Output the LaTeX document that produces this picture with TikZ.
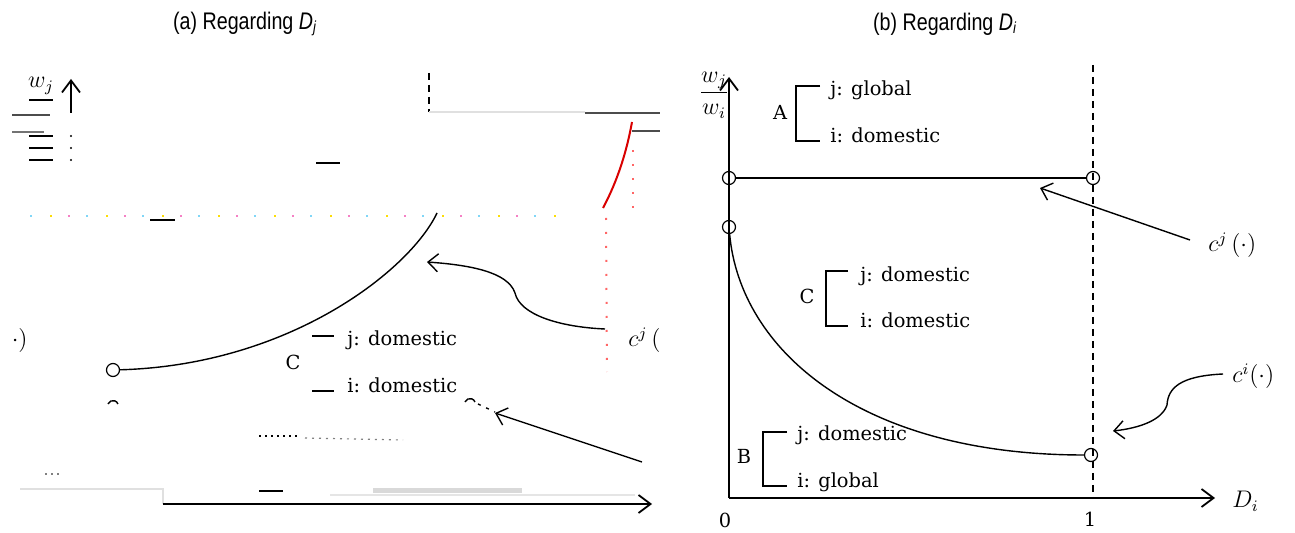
\documentclass[tikz,border=0pt]{standalone}
\usepackage[no-math]{fontspec}
\setmainfont{DejaVu Serif}
\newfontfamily\titlefont{Liberation Sans}
\usetikzlibrary{arrows.meta}
\begin{document}
\begin{tikzpicture}[x=0.5pt,y=-0.5pt,
  lbl/.style={font=\fontsize{9.7}{11}\selectfont, inner sep=0pt},
  mlbl/.style={font=\fontsize{12}{14}\selectfont, inner sep=0pt},
  ttl/.style={font=\titlefont\fontsize{12}{14}\selectfont, inner sep=0pt},
  axisarr/.style={line width=0.9pt, -{Straight Barb[length=6pt,width=9pt]}},
  crv/.style={line width=0.7pt},
  arr/.style={line width=0.7pt, -{Straight Barb[length=5pt,width=9pt]}},
  circ/.style={circle, draw, line width=0.6pt, inner sep=0pt, minimum size=6.5pt},
  brk/.style={line width=0.8pt},
  dashln/.style={line width=0.7pt, dash pattern=on 3.5pt off 2.5pt},
  glitchdark/.style={line width=1pt, black!70},
  glitchlight/.style={line width=1pt, black!12},
  shortbar/.style={line width=0.9pt, black},
  reddots/.style={line width=1pt, red!60, dash pattern=on 1pt off 6pt},
]
\useasboundingbox (0,0) rectangle (1295,533);

%% ---------------- titles ----------------
\node[ttl] (ta) at (245,24) {\scalebox{0.82}[1]{(a) Regarding {\itshape D}\textsubscript{\itshape j}}};
\node[ttl] (tb) at (945,24) {\scalebox{0.82}[1]{(b) Regarding {\itshape D}\textsubscript{\itshape i}}};

%% ---------------- panel (a): corrupted rendering ----------------
\coordinate (aYbot) at (71,113);
\coordinate (aYtop) at (71,79);
\draw[axisarr] (aYbot) -- (aYtop);
\node[mlbl] (awj) at (41,86) {$w_j$};
\draw[shortbar] (29,100) -- (53,100);
\draw[glitchdark] (12,115) -- (50,115);
\draw[line width=1pt, black!55] (12,132) -- (44,132);
\foreach \yy in {136,148,160}{
  \draw[shortbar] (29,\yy) -- (53,\yy);
  \fill (71,\yy) circle[radius=0.6pt];
}
\draw[shortbar] (316,163) -- (340,163);
\draw[shortbar] (150,220) -- (175,220);
% coloured speckles
\draw[cyan!50, line width=1pt, dash pattern=on 1pt off 27pt] (30,216) -- (565,216);
\draw[magenta!50, line width=1pt, dash pattern=on 1pt off 27pt, dash phase=9pt] (30,216) -- (565,216);
\draw[yellow!80!orange, line width=1pt, dash pattern=on 1pt off 27pt, dash phase=18pt] (30,216) -- (565,216);
% top fragments
\draw[dashln] (429,73) -- (429,112);
\draw[glitchlight] (429,112) -- (585,112);
\draw[glitchdark] (585,113) -- (660,113);
\draw[glitchdark] (632,131) -- (660,131);
\draw[line width=1pt, red!85!black] (603,208) .. controls (618,180) and (627,150) .. (632,122);
\draw[reddots] (633,150) -- (633,212);
\draw[reddots] (606,218) -- (607,372);
% main curve of panel (a)
\node[circ] (aC) at (113,370) {};
\coordinate (aCend) at (437,213);
\draw[crv] (aC) .. controls (290,365) and (410,270) .. (aCend);
% curved arrow to the curve
\coordinate (cjaS) at (605,329);
\coordinate (cjaT) at (427,262);
\draw[arr] (cjaS) .. controls (560,327) and (520,315) .. (515,293)
                  .. controls (508,272) and (470,265) .. (cjaT);
\node[mlbl, anchor=base west] (cja) at (628,347) {$c^j\,($};
\node[mlbl, anchor=base east] (cjb2) at (28,347) {$\cdot)$};
% C bracket fragment
\node[lbl, anchor=base] (Ca) at (293,370) {C};
\draw[brk] (312,336) -- (334,336);
\draw[brk] (312,391) -- (334,391);
\node[lbl, anchor=base west] (Caj) at (347,346) {j: domestic};
\node[lbl, anchor=base west] (Cai) at (347,393) {i: domestic};
% small arcs
\draw[crv] (108,404) arc[start angle=200, end angle=340, radius=5.3];
\draw[crv] (465,402) arc[start angle=200, end angle=340, radius=5.3];
\draw[line width=0.7pt, dash pattern=on 1.5pt off 3pt] (478,404) -- (495,412);
% straight arrow
\coordinate (ciaS) at (642,462);
\coordinate (ciaT) at (495,413);
\draw[arr] (ciaS) -- (ciaT);
% dotted fragments
\draw[line width=0.8pt, dash pattern=on 1pt off 2pt] (259,436) -- (298,436);
\draw[line width=0.6pt, black!50, dash pattern=on 1pt off 2.5pt] (305,438) -- (403,440);
\draw[line width=0.6pt, black!50, dash pattern=on 1pt off 2pt] (45,474) -- (62,474);
% bottom fragments
\draw[glitchlight] (20,489) -- (163,489) -- (163,504);
\draw[line width=1pt, black!10] (330,495) -- (635,495);
\fill[black!15] (373,488) rectangle (522,493);
\draw[shortbar] (259,491) -- (283,491);
\coordinate (aX0) at (163,504);
\coordinate (aXend) at (652,504);
\draw[axisarr] (aX0) -- (aXend);

%% ---------------- panel (b) ----------------
\coordinate (bO) at (729,498);
\coordinate (bYtop) at (729,77);
\coordinate (bXend) at (1215,498);
\draw[axisarr] (bO) -- (bYtop);
\draw[axisarr] (bO) -- (bXend);
\coordinate (dTop) at (1093,65);
\coordinate (dBot) at (1093,498);
\draw[dashln] (dTop) -- (dBot);

\node[mlbl] (wfrac) at (714,95) {$\displaystyle\frac{w_j}{w_i}$};
\node[mlbl, anchor=base west] (Dlab) at (1232,508) {$D_i$};
\node[lbl] (zero) at (725,520) {0};
\node[lbl] (one) at (1090,519) {1};

\node[circ] (pA) at (729,178) {};
\node[circ] (pB) at (1093,178) {};
\draw[crv] (pA) -- (pB);
\node[circ] (pC) at (729,227) {};
\node[circ] (pD) at (1091,455) {};
\draw[crv] (pC) .. controls (740,350) and (860,455) .. (pD);

% A
\node[lbl, anchor=base] (Ab) at (780,120) {A};
\draw[brk] (820,86) -- (796,86) -- (796,141) -- (820,141);
\node[lbl, anchor=base west] (Abj) at (830,96) {j: global};
\node[lbl, anchor=base west] (Abi) at (830,143) {i: domestic};
% C
\node[lbl, anchor=base] (Cb) at (807,304) {C};
\draw[brk] (848,271) -- (826,271) -- (826,326) -- (848,326);
\node[lbl, anchor=base west] (Cbj) at (860,282) {j: domestic};
\node[lbl, anchor=base west] (Cbi) at (860,328) {i: domestic};
% B
\node[lbl, anchor=base] (Bb) at (744,464) {B};
\draw[brk] (787,432) -- (763,432) -- (763,486) -- (787,486);
\node[lbl, anchor=base west] (Bbj) at (797,441) {j: domestic};
\node[lbl, anchor=base west] (Bbi) at (797,488) {i: global};

% c^j label and arrow
\node[mlbl, anchor=base west] (cjlab) at (1208,252) {$c^j\,(\cdot)$};
\coordinate (cjS) at (1190,240);
\coordinate (cjT) at (1040,188);
\draw[arr] (cjS) -- (cjT);
% c^i label and arrow
\node[mlbl, anchor=base west] (cilab) at (1232,383) {$c^i(\cdot)$};
\coordinate (ciS) at (1223,374);
\coordinate (ciT) at (1113,431);
\draw[arr] (ciS) .. controls (1180,376) and (1168,388) .. (1167,405)
                 .. controls (1162,420) and (1140,428) .. (ciT);
\end{tikzpicture}
\end{document}
